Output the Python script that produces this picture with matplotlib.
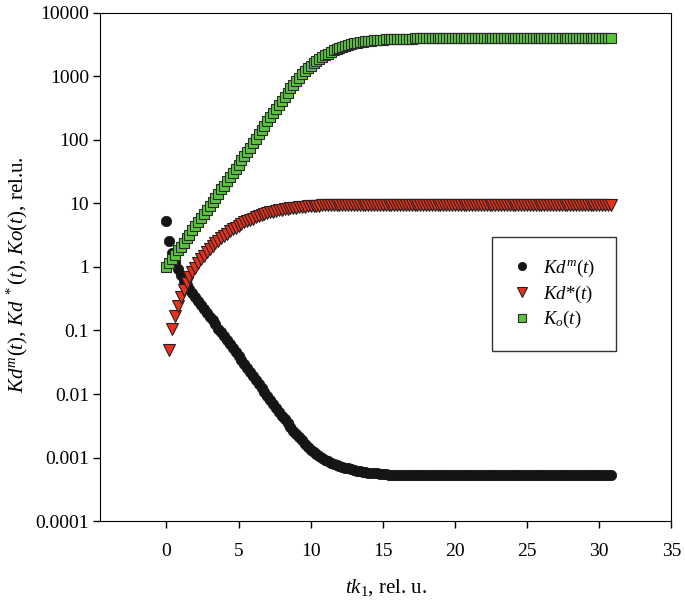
import numpy as np
import matplotlib
matplotlib.use("Agg")
import matplotlib.pyplot as plt

# 字体: Times 风格
plt.rcParams["font.family"] = ["Liberation Serif", "DejaVu Serif"]
plt.rcParams["mathtext.fontset"] = "custom"
plt.rcParams["mathtext.rm"] = "Liberation Serif"
plt.rcParams["mathtext.it"] = "Liberation Serif:italic"

# 时间网格, 步长 0.2
t_step = 0.2
t = np.arange(0, 155) * t_step

# log10 读数 (对数坐标)
kdm_log = [
    0.73, 0.41, 0.22, 0.08, -0.03, -0.13, -0.22, -0.28, -0.35, -0.41,
    -0.47, -0.53, -0.60, -0.66, -0.72, -0.78, -0.84, -0.90, -0.97, -1.03,
    -1.09, -1.15, -1.21, -1.28, -1.34, -1.40, -1.46, -1.53, -1.59, -1.65,
    -1.72, -1.78, -1.84, -1.90, -1.97, -2.03, -2.09, -2.15, -2.22, -2.28,
    -2.34, -2.40, -2.46, -2.52, -2.58, -2.63, -2.68, -2.73, -2.78, -2.83,
    -2.88, -2.92, -2.95, -2.98, -3.01, -3.04, -3.06, -3.08, -3.10, -3.12,
    -3.14, -3.15, -3.16, -3.17, -3.18, -3.20, -3.21, -3.21, -3.22, -3.23,
    -3.24, -3.24, -3.25, -3.25, -3.26, -3.26, -3.26, -3.27, -3.27, -3.27,
    -3.27, -3.28, -3.28, -3.28, -3.28, -3.28, -3.28, -3.28, -3.28, -3.28,
    -3.28, -3.28, -3.28, -3.28, -3.28, -3.28, -3.28, -3.28, -3.28, -3.28,
    -3.28, -3.28, -3.28, -3.28, -3.28, -3.28, -3.28, -3.28, -3.28, -3.28,
    -3.28, -3.28, -3.28, -3.28, -3.28, -3.28, -3.28, -3.28, -3.28, -3.28,
    -3.28, -3.28, -3.28, -3.28, -3.28, -3.28, -3.28, -3.28, -3.28, -3.28,
    -3.28, -3.28, -3.28, -3.28, -3.28, -3.28, -3.28, -3.28, -3.28, -3.28,
    -3.28, -3.28, -3.28, -3.28, -3.28, -3.28, -3.28, -3.28, -3.28, -3.28,
    -3.28, -3.28, -3.28, -3.28, -3.28,
]

kds_log = [
    np.nan, -1.30, -0.97, -0.77, -0.62, -0.48, -0.36, -0.25, -0.16, -0.08,
    -0.01, 0.06, 0.12, 0.18, 0.23, 0.28, 0.33, 0.37, 0.41, 0.45,
    0.49, 0.52, 0.56, 0.59, 0.62, 0.65, 0.67, 0.70, 0.72, 0.74,
    0.76, 0.78, 0.80, 0.815, 0.83, 0.845, 0.86, 0.87, 0.88, 0.89,
    0.90, 0.91, 0.92, 0.925, 0.93, 0.935, 0.94, 0.945, 0.95, 0.955,
    0.96, 0.96, 0.965, 0.965, 0.97, 0.97, 0.97, 0.97, 0.97, 0.975,
    0.975, 0.975, 0.975, 0.975, 0.975, 0.975, 0.975, 0.975, 0.975, 0.975,
    0.975, 0.975, 0.975, 0.975, 0.975, 0.975, 0.975, 0.975, 0.975, 0.975,
    0.975, 0.975, 0.975, 0.975, 0.975, 0.975, 0.975, 0.975, 0.975, 0.975,
    0.975, 0.975, 0.975, 0.975, 0.975, 0.975, 0.975, 0.975, 0.975, 0.975,
    0.975, 0.975, 0.975, 0.975, 0.975, 0.975, 0.975, 0.975, 0.975, 0.975,
    0.975, 0.975, 0.975, 0.975, 0.975, 0.975, 0.975, 0.975, 0.975, 0.975,
    0.975, 0.975, 0.975, 0.975, 0.975, 0.975, 0.975, 0.975, 0.975, 0.975,
    0.975, 0.975, 0.975, 0.975, 0.975, 0.975, 0.975, 0.975, 0.975, 0.975,
    0.975, 0.975, 0.975, 0.975, 0.975, 0.975, 0.975, 0.975, 0.975, 0.975,
    0.975, 0.975, 0.975, 0.975, 0.975,
]

ko_log = [
    0.00, 0.07, 0.13, 0.19, 0.26, 0.32, 0.38, 0.45, 0.51, 0.58,
    0.64, 0.70, 0.77, 0.83, 0.90, 0.96, 1.02, 1.09, 1.15, 1.22,
    1.28, 1.35, 1.41, 1.48, 1.54, 1.61, 1.68, 1.75, 1.81, 1.88,
    1.95, 2.02, 2.09, 2.15, 2.22, 2.29, 2.36, 2.42, 2.49, 2.55,
    2.62, 2.68, 2.74, 2.81, 2.87, 2.93, 2.98, 3.03, 3.08, 3.13,
    3.17, 3.21, 3.24, 3.28, 3.31, 3.34, 3.36, 3.39, 3.41, 3.43,
    3.45, 3.46, 3.48, 3.49, 3.51, 3.52, 3.53, 3.54, 3.545, 3.555,
    3.56, 3.565, 3.57, 3.575, 3.58, 3.58, 3.585, 3.585, 3.59, 3.59,
    3.59, 3.595, 3.595, 3.595, 3.595, 3.595, 3.60, 3.60, 3.60, 3.60,
    3.60, 3.60, 3.60, 3.60, 3.60, 3.60, 3.60, 3.60, 3.60, 3.60,
    3.60, 3.60, 3.60, 3.60, 3.60, 3.60, 3.60, 3.60, 3.60, 3.60,
    3.60, 3.60, 3.60, 3.60, 3.60, 3.60, 3.60, 3.60, 3.60, 3.60,
    3.60, 3.60, 3.60, 3.60, 3.60, 3.60, 3.60, 3.60, 3.60, 3.60,
    3.60, 3.60, 3.60, 3.60, 3.60, 3.60, 3.60, 3.60, 3.60, 3.60,
    3.60, 3.60, 3.60, 3.60, 3.60, 3.60, 3.60, 3.60, 3.60, 3.60,
    3.60, 3.60, 3.60, 3.60, 3.60,
]

labels = [r"$Kd^m(t)$", r"$Kd$*$(t)$", r"$K_o(t)$"]
y_ticks = [1e-4, 1e-3, 1e-2, 1e-1, 1, 10, 100, 1000, 10000]
y_ticklabels = ["0.0001", "0.001", "0.01", "0.1", "1", "10", "100", "1000", "10000"]
x_ticks = [0, 5, 10, 15, 20, 25, 30, 35]

kdm = 10 ** np.array(kdm_log)
kds = 10 ** np.array(kds_log)
ko = 10 ** np.array(ko_log)

fig = plt.figure(figsize=(6.85, 6.13), dpi=100)
ax = fig.add_axes([0.146, 0.150, 0.834, 0.829])

ax.plot(t, kdm, "o", color="#151515", mec="#151515", ms=7.5, mew=0.5, label=labels[0])
ax.plot(t, kds, "v", color="#e8321e", mec="#222222", ms=8.2, mew=0.8, label=labels[1])
ax.plot(t, ko, "s", color="#5cc43c", mec="#2a2a2a", ms=7.3, mew=0.8, label=labels[2])

ax.set_yscale("log")
ax.set_ylim(1e-4, 1e4)
ax.set_xlim(-4.6, 35)
ax.set_yticks(y_ticks)
ax.set_yticklabels(y_ticklabels)
ax.minorticks_off()
ax.set_xticks(x_ticks)
ax.tick_params(direction="out", length=5, width=1, labelsize=14, pad=3)
ax.tick_params(axis="x", pad=11)

ax.set_xlabel(r"$tk_1$, rel. u.", fontsize=15, labelpad=12)
ax.set_ylabel(r"$Kd^m(t)$, $Kd^{\ *}(t)$, $Ko(t)$, rel.u.", fontsize=15)
ax.yaxis.set_label_coords(-0.123, 0.484)

leg = ax.legend(loc="upper left", bbox_to_anchor=(0.6865, 0.559), fontsize=13.5,
                frameon=True, fancybox=False, edgecolor="black", markerscale=0.8,
                borderpad=1.1, handlelength=1.0, handletextpad=0.6,
                borderaxespad=0, labelspacing=0.25)
leg.get_frame().set_linewidth(1)

fig.savefig("out.png", dpi=100)
